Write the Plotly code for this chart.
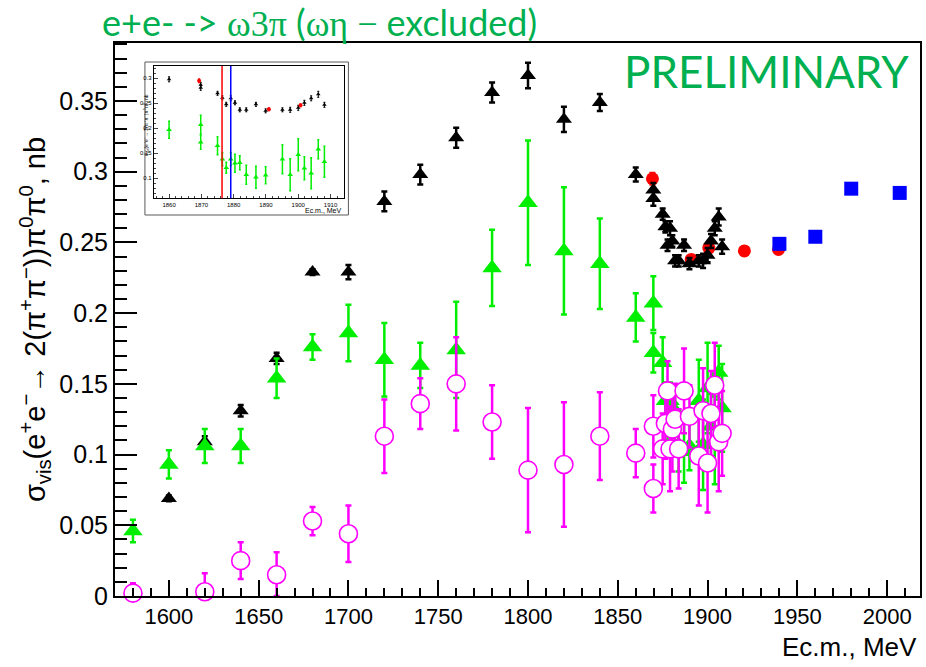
import plotly.graph_objects as go

# ---------------- data ----------------
# scan energies below the N-Nbar threshold region (MeV)
e_low = [1600, 1620, 1640, 1660, 1680, 1700, 1720, 1740, 1760, 1780, 1800, 1820, 1840]
black_low = [0.069, 0.109, 0.131, 0.168, 0.229, 0.229, 0.279, 0.298, 0.324, 0.356, 0.368, 0.337, 0.349]
black_low_err = [0.002, 0.004, 0.004, 0.004, 0.002, 0.005, 0.007, 0.007, 0.007, 0.007, 0.009, 0.009, 0.006]

# fine scan near the N-Nbar threshold (MeV)
e_high = [1860, 1869.8, 1869.8, 1875.0, 1876.5, 1877.7, 1879.1, 1880.4, 1881.9, 1883.9,
          1886.9, 1889.9, 1895.1, 1897.5, 1900.0, 1901.9, 1904.0, 1906.2, 1908.1]
black_high = [0.298, 0.287, 0.281, 0.270, 0.261, 0.248, 0.260, 0.251, 0.237, 0.237,
              0.248, 0.235, 0.237, 0.237, 0.241, 0.251, 0.260, 0.268, 0.247]
black_high_err = [0.005, 0.005, 0.005, 0.004, 0.004, 0.004, 0.005, 0.004, 0.004, 0.004,
                  0.004, 0.004, 0.004, 0.005, 0.005, 0.005, 0.005, 0.006, 0.005]

# omega 3pi (omega eta excluded)
e_green = [1580, 1600, 1620, 1640, 1660, 1680, 1700, 1720, 1740, 1760, 1780, 1800, 1820, 1840]
green_low = [0.046, 0.093, 0.106, 0.106, 0.154, 0.176, 0.186, 0.167, 0.163, 0.174, 0.232, 0.278, 0.244, 0.235]
green_low_err = [0.008, 0.010, 0.012, 0.012, 0.014, 0.009, 0.020, 0.026, 0.016, 0.034, 0.027, 0.044, 0.045, 0.032]
green_high = [0.197, 0.207, 0.172, 0.165, 0.138, 0.121, 0.138, 0.130, 0.131, 0.107,
              0.102, 0.106, 0.138, 0.107, 0.147, 0.120, 0.110, 0.158, 0.133]
green_high_err = [0.017, 0.019, 0.014, 0.018, 0.013, 0.011, 0.013, 0.018, 0.014, 0.019,
                  0.022, 0.017, 0.029, 0.032, 0.032, 0.023, 0.031, 0.019, 0.031]

# remaining contribution (open circles)
e_pink_low = [1580, 1620, 1640, 1660, 1680, 1700, 1720, 1740, 1760, 1780, 1800, 1820, 1840]
pink_low = [0.002, 0.003, 0.025, 0.015, 0.053, 0.044, 0.113, 0.136, 0.150, 0.123, 0.089, 0.093, 0.113]
pink_low_err = [0.007, 0.013, 0.013, 0.016, 0.010, 0.020, 0.026, 0.018, 0.033, 0.026, 0.044, 0.044, 0.031]
pink_high = [0.101, 0.120, 0.076, 0.104, 0.122, 0.145, 0.104, 0.118, 0.125, 0.104,
             0.145, 0.127, 0.099, 0.131, 0.094, 0.129, 0.149, 0.109, 0.115]
pink_high_err = [0.017, 0.022, 0.017, 0.025, 0.025, 0.021, 0.030, 0.030, 0.025, 0.028,
                 0.030, 0.022, 0.035, 0.030, 0.035, 0.030, 0.030, 0.035, 0.030]

# other measurements
e_red = [1869.3, 1890.9, 1900.7, 1920.5, 1939.5]
red_vals = [0.295, 0.238, 0.246, 0.244, 0.245]
red_err = [0.004, 0.003, 0.003, 0.003, 0.003]

e_blue = [1940, 1960, 1980, 2007]
blue_vals = [0.249, 0.254, 0.288, 0.285]
blue_err = [0.003, 0.003, 0.003, 0.0]

# axis ticks
x_ticks = [1600, 1650, 1700, 1750, 1800, 1850, 1900, 1950, 2000]
y_ticks = [0, 0.05, 0.1, 0.15, 0.2, 0.25, 0.3, 0.35]
y_tick_text = ["0", "0.05", "0.1", "0.15", "0.2", "0.25", "0.3", "0.35"]
inset_x_ticks = [1860, 1870, 1880, 1890, 1900, 1910]
inset_y_ticks = [0.1, 0.15, 0.2, 0.25, 0.3]
inset_y_text = ["0.1", "0.15", "0.2", "0.25", "0.3"]
inset_lines = {"red": 1876.4, "blue": 1879.1}

BLACK = "black"
GREEN = "rgb(0,238,0)"
PINK = "rgb(255,0,255)"
RED = "rgb(255,0,0)"
BLUE = "rgb(0,0,255)"
TITLE_GREEN = "rgb(0,176,80)"
FONT = "Liberation Sans"


def ebar(err, color, thick=2.5, width=3, minus=None):
    d = dict(type="data", array=err, color=color, thickness=thick, width=width, visible=True)
    if minus is not None:
        d["symmetric"] = False
        d["arrayminus"] = minus
    return d


# open circles: lower bars stop at zero
pink_y = pink_low + pink_high
pink_err = pink_low_err + pink_high_err
pink_minus = [min(v, e) for v, e in zip(pink_y, pink_err)]

fig = go.Figure()

# ---- main frame ----
fig.add_trace(go.Scatter(x=e_red, y=red_vals, mode="markers",
                         marker=dict(symbol="circle", size=13, color=RED),
                         error_y=ebar(red_err, RED), showlegend=False))
fig.add_trace(go.Scatter(x=e_low + e_high, y=black_low + black_high, mode="markers",
                         marker=dict(symbol="triangle-up", size=14, color=BLACK),
                         error_y=ebar(black_low_err + black_high_err, BLACK), showlegend=False))
fig.add_trace(go.Scatter(x=e_blue, y=blue_vals, mode="markers",
                         marker=dict(symbol="square", size=14, color=BLUE),
                         error_y=ebar(blue_err, BLUE), showlegend=False))
fig.add_trace(go.Scatter(x=e_green + e_high, y=green_low + green_high, mode="markers",
                         marker=dict(symbol="triangle-up", size=17, color=GREEN),
                         error_y=ebar(green_low_err + green_high_err, GREEN), showlegend=False))
fig.add_trace(go.Scatter(x=e_pink_low + e_high, y=pink_y, mode="markers", cliponaxis=False,
                         marker=dict(symbol="circle", size=18, color="white",
                                     line=dict(color=PINK, width=1.6)),
                         error_y=ebar(pink_err, PINK, minus=pink_minus), showlegend=False))

# ---- inset: zoom on the threshold region ----
fig.add_trace(go.Scatter(x=e_high, y=black_high, mode="markers", xaxis="x2", yaxis="y2",
                         marker=dict(symbol="triangle-up", size=4, color=BLACK),
                         error_y=ebar(black_high_err, BLACK, 1, 1), showlegend=False))
fig.add_trace(go.Scatter(x=e_red[:3], y=red_vals[:3], mode="markers", xaxis="x2", yaxis="y2",
                         marker=dict(symbol="circle", size=4, color=RED),
                         error_y=ebar(red_err[:3], RED, 1, 1), showlegend=False))
fig.add_trace(go.Scatter(x=e_high, y=green_high, mode="markers", xaxis="x2", yaxis="y2",
                         marker=dict(symbol="triangle-up", size=5, color=GREEN),
                         error_y=ebar(green_high_err, GREEN, 1.5, 1), showlegend=False))

shapes = [
    dict(type="rect", xref="paper", yref="paper",
         x0=(145 - 115) / 807, x1=(349 - 115) / 807,
         y0=(596 - 215) / 553, y1=(596 - 62) / 553,
         line=dict(color="rgb(90,90,90)", width=1), fillcolor="white", layer="below"),
]
for col, ex in inset_lines.items():
    shapes.append(dict(type="line", xref="x2", yref="y2 domain", x0=ex, x1=ex, y0=0, y1=1,
                       line=dict(color=col, width=1.5)))

annotations = [
    dict(text="e+e- -&gt; <span style=\"font-family:'Liberation Serif'\">ω3π</span> "
              "(<span style=\"font-family:'Liberation Serif'\">ωη − </span>excluded)",
         xref="paper", yref="paper", x=(100 - 115) / 807, y=(596 - 22) / 553,
         xanchor="left", yanchor="middle", showarrow=False,
         font=dict(family="Lato", size=36, color=TITLE_GREEN)),
    dict(text="PRELIMINARY", xref="paper", yref="paper",
         x=(913 - 115) / 807, y=(596 - 71) / 553, xanchor="right", yanchor="middle",
         showarrow=False, font=dict(family="Lato", size=44, color=TITLE_GREEN)),
    dict(text="Ec.m., MeV", xref="paper", yref="paper",
         x=(921 - 115) / 807, y=(596 - 647) / 553, xanchor="right", yanchor="middle",
         showarrow=False, font=dict(family=FONT, size=26, color="black")),
    dict(text="Ec.m., MeV", xref="paper", yref="paper",
         x=(345 - 115) / 807, y=(596 - 210) / 553, xanchor="right", yanchor="middle",
         showarrow=False, font=dict(family=FONT, size=7, color="black")),
    dict(text="σ<sub>vis</sub>(e<sup>+</sup>e<sup>−</sup>→ 2(π<sup>+</sup>π<sup>−</sup>)π<sup>0</sup>π<sup>0</sup>, nb",
         xref="paper", yref="paper", x=(147 - 115) / 807, y=(596 - 125) / 553,
         xanchor="center", yanchor="middle", textangle=-90, showarrow=False,
         font=dict(family=FONT, size=5, color="black")),
]

fig.update_layout(
    width=926, height=667,
    margin=dict(l=115, r=4, t=43, b=71),
    paper_bgcolor="white", plot_bgcolor="white",
    font=dict(family=FONT, color="black"),
    showlegend=False,
    shapes=shapes,
    annotations=annotations,
    xaxis=dict(range=[1570, 2018.3], tickvals=x_ticks, ticks="inside", ticklen=16, tickwidth=2,
               tickcolor="black", showline=True, linewidth=2, linecolor="black", mirror=True,
               showgrid=False, zeroline=False, tickfont=dict(size=22, family=FONT),
               minor=dict(dtick=10, tick0=1600, ticks="inside", ticklen=8, tickwidth=1.5,
                          tickcolor="black", showgrid=False)),
    yaxis=dict(range=[0, 0.391], tickvals=y_ticks, ticktext=y_tick_text, ticks="inside",
               ticklen=22, tickwidth=2, tickcolor="black", showline=True, linewidth=2,
               linecolor="black", mirror=True, showgrid=False, zeroline=False,
               tickfont=dict(size=25, family=FONT),
               minor=dict(dtick=0.01, tick0=0, ticks="inside", ticklen=12, tickwidth=1.5,
                          tickcolor="black", showgrid=False),
               title=dict(text="σ<sub>vis</sub>(e<sup>+</sup>e<sup>−</sup>→ 2(π<sup>+</sup>π<sup>−</sup>))"
                               "π<sup>0</sup>π<sup>0</sup>, nb",
                          font=dict(size=29, family=FONT), standoff=5)),
    xaxis2=dict(domain=[(154 - 115) / 807, (345 - 115) / 807], anchor="y2",
                range=[1855.3, 1914.3], tickvals=inset_x_ticks, ticks="inside", ticklen=4,
                tickwidth=1, showline=True, linewidth=1, linecolor="black", mirror=True,
                showgrid=False, zeroline=False, tickfont=dict(size=6, family=FONT),
                minor=dict(dtick=2, tick0=1860, ticks="inside", ticklen=2, tickwidth=1,
                           showgrid=False)),
    yaxis2=dict(domain=[(596 - 198.3) / 553, (596 - 66) / 553], anchor="x2",
                range=[0.06, 0.3246], tickvals=inset_y_ticks, ticktext=inset_y_text,
                ticks="inside", ticklen=4, tickwidth=1, showline=True, linewidth=1,
                linecolor="black", mirror=True, showgrid=False, zeroline=False,
                tickfont=dict(size=6, family=FONT),
                minor=dict(dtick=0.01, tick0=0, ticks="inside", ticklen=2, tickwidth=1,
                           showgrid=False)),
)

fig.write_html("out.html")
